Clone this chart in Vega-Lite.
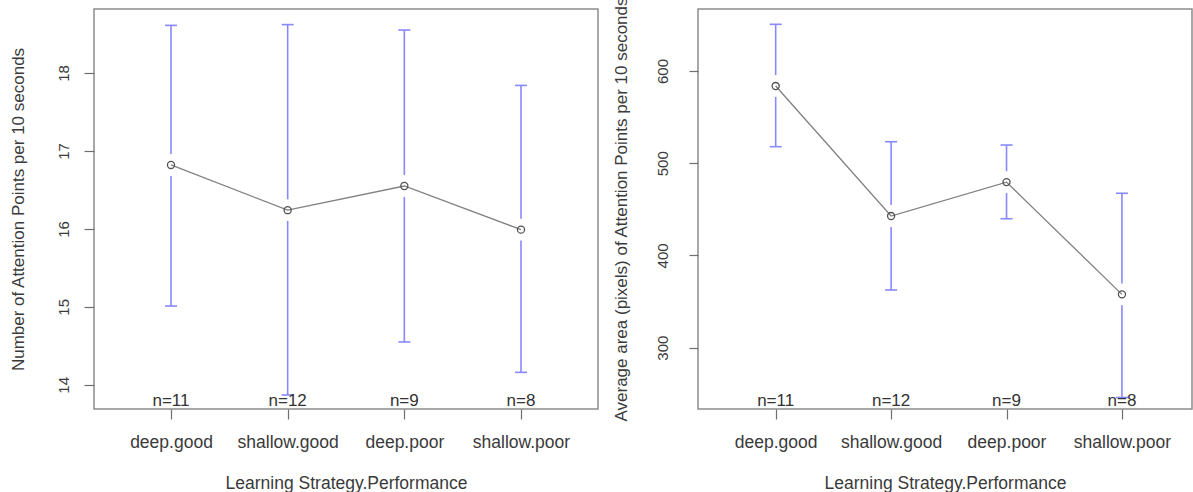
{
  "$schema": "https://vega.github.io/schema/vega-lite/v6.json",
  "padding": {"left": 8, "top": -5, "right": 0, "bottom": 0},
  "bounds": "flush",
  "spacing": 100,
  "background": "white",
  "config": {
    "view": {"stroke": "#8c8c8c", "strokeWidth": 1.5},
    "axis": {"grid": false, "domain": false, "tickColor": "#6e6e6e", "tickWidth": 1.2, "labelColor": "#3a3a3a", "titleColor": "#3a3a3a", "labelFont": "Liberation Sans", "titleFont": "Liberation Sans", "titleFontWeight": "normal"},
    "text": {"font": "Liberation Sans"}
  },
  "datasets": {
    "left": [
      {"pos": 1, "group": "deep.good", "mean": 16.82, "lo": 15.01, "hi": 18.61, "nlab": "n=11"},
      {"pos": 2, "group": "shallow.good", "mean": 16.24, "lo": 13.87, "hi": 18.62, "nlab": "n=12"},
      {"pos": 3, "group": "deep.poor", "mean": 16.55, "lo": 14.55, "hi": 18.55, "nlab": "n=9"},
      {"pos": 4, "group": "shallow.poor", "mean": 15.99, "lo": 14.16, "hi": 17.84, "nlab": "n=8"}
    ],
    "right": [
      {"pos": 1, "group": "deep.good", "mean": 583.7, "lo": 517.9, "hi": 650.6, "nlab": "n=11"},
      {"pos": 2, "group": "shallow.good", "mean": 442.7, "lo": 362.5, "hi": 523.3, "nlab": "n=12"},
      {"pos": 3, "group": "deep.poor", "mean": 479.5, "lo": 439.8, "hi": 519.7, "nlab": "n=9"},
      {"pos": 4, "group": "shallow.poor", "mean": 357.8, "lo": 246, "hi": 467.4, "nlab": "n=8"}
    ]
  },
  "hconcat": [
    {
      "width": 504,
      "height": 400,
      "data": {"name": "left"},
      "encoding": {
        "x": {
          "field": "pos", "type": "quantitative",
          "scale": {"domain": [0.34, 4.66], "nice": false, "zero": false},
          "axis": {
            "values": [1, 2, 3, 4],
            "labelExpr": "['', 'deep.good', 'shallow.good', 'deep.poor', 'shallow.poor'][datum.value]",
            "title": "Learning Strategy.Performance",
            "tickSize": 10, "labelPadding": 28, "labelBaseline": "alphabetic",
            "labelFontSize": 17.5, "titleFontSize": 17.5, "titleY": 79, "titleBaseline": "alphabetic",
            "labelFlush": false, "labelOverlap": false
          }
        }
      },
      "layer": [
        {
          "mark": {"type": "rule", "color": "#8888ff", "strokeWidth": 1.6},
          "encoding": {
            "y": {
              "field": "lo", "type": "quantitative",
              "scale": {"domain": [13.69, 18.82], "nice": false, "zero": false},
              "axis": {
                "values": [14, 15, 16, 17, 18], "format": "d",
                "title": "Number of Attention Points per 10 seconds",
                "labelAngle": -90, "tickSize": 10, "labelPadding": 13, "labelFontSize": 15,
                "titleFontSize": 17, "titleX": -76, "titleBaseline": "middle"
              }
            },
            "y2": {"field": "hi"}
          }
        },
        {
          "mark": {"type": "tick", "orient": "horizontal", "color": "#8888ff", "size": 12, "thickness": 1.6, "opacity": 1},
          "encoding": {"y": {"field": "lo", "type": "quantitative"}}
        },
        {
          "mark": {"type": "tick", "orient": "horizontal", "color": "#8888ff", "size": 12, "thickness": 1.6, "opacity": 1},
          "encoding": {"y": {"field": "hi", "type": "quantitative"}}
        },
        {
          "mark": {"type": "point", "shape": "circle", "filled": true, "color": "white", "opacity": 1, "size": 480},
          "encoding": {"y": {"field": "mean", "type": "quantitative"}}
        },
        {
          "mark": {"type": "line", "color": "#808080", "strokeWidth": 1.3},
          "encoding": {"y": {"field": "mean", "type": "quantitative"}}
        },
        {
          "mark": {"type": "point", "shape": "circle", "filled": false, "color": "#505050", "strokeWidth": 1.3, "size": 50, "opacity": 1},
          "encoding": {"y": {"field": "mean", "type": "quantitative"}}
        },
        {
          "mark": {"type": "text", "fontSize": 17, "baseline": "alphabetic", "dy": -3, "color": "#333333"},
          "encoding": {"text": {"field": "nlab"}, "y": {"value": "height"}}
        }
      ]
    },
    {
      "width": 494,
      "height": 400,
      "data": {"name": "right"},
      "encoding": {
        "x": {
          "field": "pos", "type": "quantitative",
          "scale": {"domain": [0.327, 4.607], "nice": false, "zero": false},
          "axis": {
            "values": [1, 2, 3, 4],
            "labelExpr": "['', 'deep.good', 'shallow.good', 'deep.poor', 'shallow.poor'][datum.value]",
            "title": "Learning Strategy.Performance",
            "tickSize": 10, "labelPadding": 28, "labelBaseline": "alphabetic",
            "labelFontSize": 17.5, "titleFontSize": 17.5, "titleY": 79, "titleBaseline": "alphabetic",
            "labelFlush": false, "labelOverlap": false
          }
        }
      },
      "layer": [
        {
          "mark": {"type": "rule", "color": "#8888ff", "strokeWidth": 1.6},
          "encoding": {
            "y": {
              "field": "lo", "type": "quantitative",
              "scale": {"domain": [233.5, 667.2], "nice": false, "zero": false},
              "axis": {
                "values": [300, 400, 500, 600], "format": "d",
                "title": "Average area (pixels) of Attention Points per 10 seconds",
                "labelAngle": -90, "tickSize": 9, "labelPadding": 19, "labelFontSize": 15,
                "titleFontSize": 17, "titleX": -77, "titleBaseline": "middle"
              }
            },
            "y2": {"field": "hi"}
          }
        },
        {
          "mark": {"type": "tick", "orient": "horizontal", "color": "#8888ff", "size": 12, "thickness": 1.6, "opacity": 1},
          "encoding": {"y": {"field": "lo", "type": "quantitative"}}
        },
        {
          "mark": {"type": "tick", "orient": "horizontal", "color": "#8888ff", "size": 12, "thickness": 1.6, "opacity": 1},
          "encoding": {"y": {"field": "hi", "type": "quantitative"}}
        },
        {
          "mark": {"type": "point", "shape": "circle", "filled": true, "color": "white", "opacity": 1, "size": 480},
          "encoding": {"y": {"field": "mean", "type": "quantitative"}}
        },
        {
          "mark": {"type": "line", "color": "#808080", "strokeWidth": 1.3},
          "encoding": {"y": {"field": "mean", "type": "quantitative"}}
        },
        {
          "mark": {"type": "point", "shape": "circle", "filled": false, "color": "#505050", "strokeWidth": 1.3, "size": 50, "opacity": 1},
          "encoding": {"y": {"field": "mean", "type": "quantitative"}}
        },
        {
          "mark": {"type": "text", "fontSize": 17, "baseline": "alphabetic", "dy": -3, "color": "#333333"},
          "encoding": {"text": {"field": "nlab"}, "y": {"value": "height"}}
        }
      ]
    }
  ]
}
